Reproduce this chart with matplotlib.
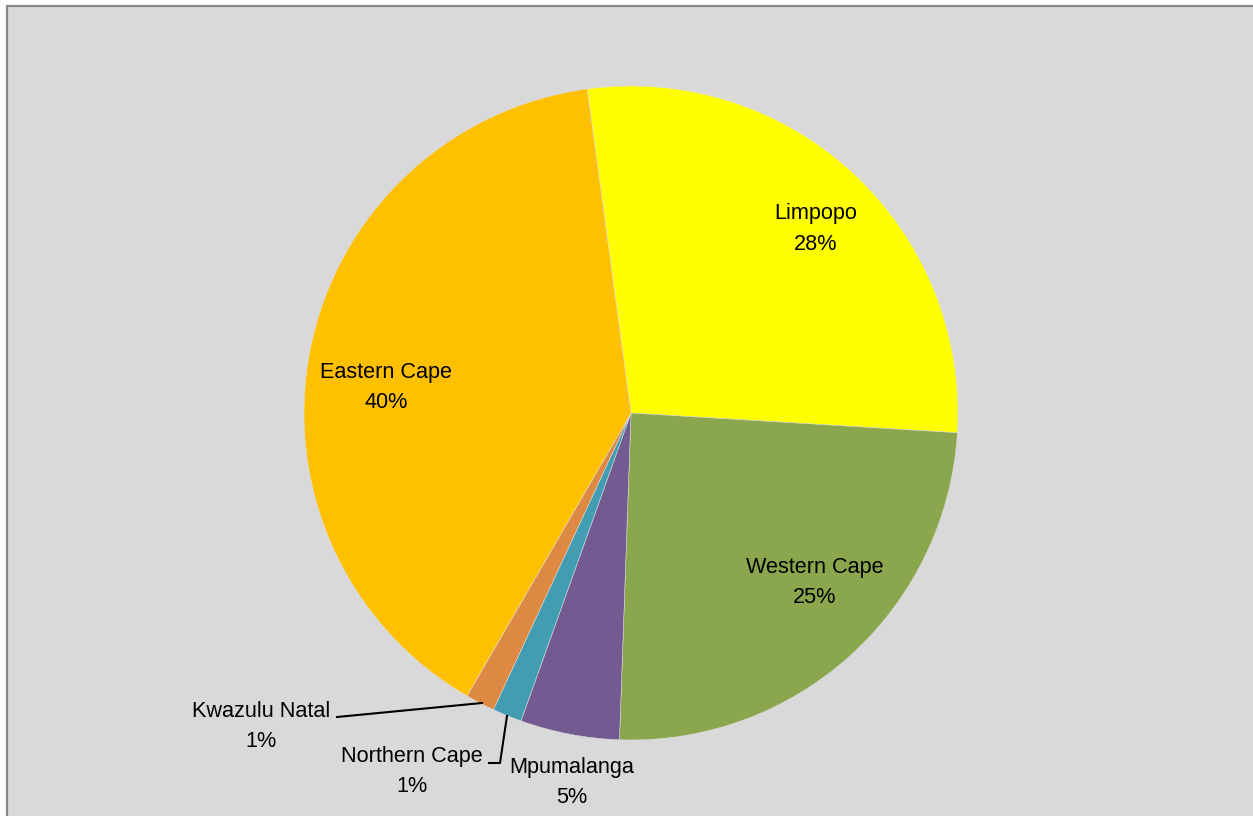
import matplotlib.pyplot as plt
from matplotlib.patches import Rectangle

# данные: доля по провинциям, %
provinces = ["Limpopo", "Western Cape", "Mpumalanga", "Northern Cape", "Kwazulu Natal", "Eastern Cape"]
shares = [28.1, 24.6, 4.9, 1.45, 1.45, 39.5]
colors = ["#FFFF00", "#8BA74D", "#735A91", "#439DB2", "#DD8843", "#FFC000"]

W, H = 1253, 816

fig = plt.figure(figsize=(W / 100, H / 100), dpi=100)
ax = fig.add_axes([0, 0, 1, 1])

# серая подложка с рамкой
ax.add_patch(Rectangle((7, -10), W, H - 5.5 + 10, facecolor="#D9D9D9",
                       edgecolor="#898989", linewidth=1.6, zorder=0))

ax.pie(shares, colors=colors, startangle=97.7, counterclock=False,
       center=(631, H - 413), radius=327,
       wedgeprops=dict(edgecolor="#E0E0E0", linewidth=0.35))

ax.set_xlim(0, W)
ax.set_ylim(0, H)
ax.set_aspect("equal")
ax.axis("off")

# подписи (позиции в пикселях картинки)
label_pos = {
    "Limpopo": (816, 229),
    "Western Cape": (815, 582.5),
    "Eastern Cape": (386, 387.5),
    "Kwazulu Natal": (261, 726.5),
    "Northern Cape": (412, 771.5),
    "Mpumalanga": (572, 782.5),
}
for name, val in zip(provinces, shares):
    px, py = label_pos[name]
    ax.text(px, H - py, f"{name}\n{val:.0f}%", ha="center", va="center",
            fontsize=15.6, family="Liberation Sans", linespacing=1.62, zorder=5)

# линии-выноски
ax.plot([337, 482], [H - 717, H - 703], color="black", lw=1.5, zorder=4)
ax.plot([489, 500, 507], [H - 763, H - 763, H - 716], color="black", lw=1.5, zorder=4)

fig.savefig("out.png", dpi=100, facecolor="white")
